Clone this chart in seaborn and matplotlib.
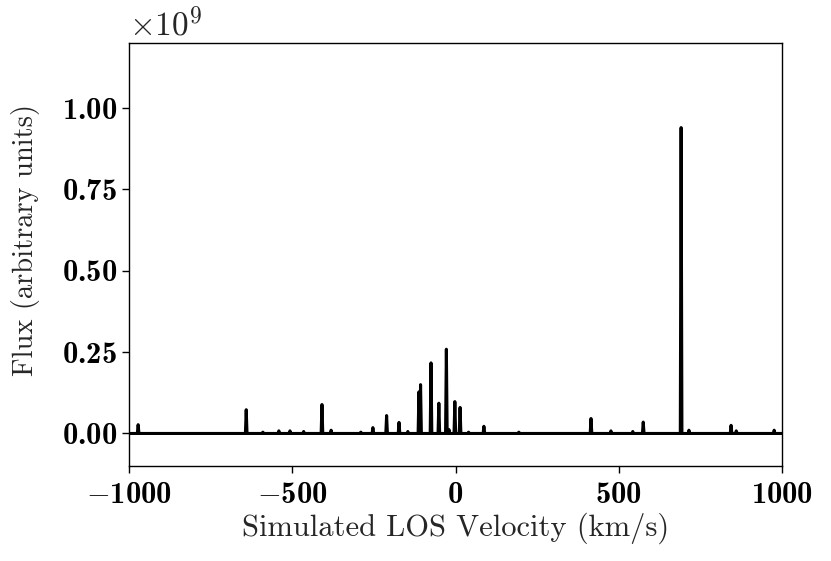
import numpy as np
import pandas as pd
import matplotlib
matplotlib.use("Agg")
import matplotlib.pyplot as plt
import seaborn as sns
from matplotlib.ticker import FuncFormatter

# --- data (flux in units of 1e9) ---
spike_velocity = [-972, -641, -590, -541, -507, -465, -409, -381, -290, -253,
                  -211, -173, -146, -112, -107, -75, -51, -28, -20, -2, 14,
                  40, 87, 194, 415, 476, 543, 575, 691, 715, 844, 860, 976]
spike_flux = [0.027, 0.073, 0.004, 0.008, 0.008, 0.006, 0.089, 0.010, 0.004, 0.018,
              0.055, 0.034, 0.006, 0.128, 0.150, 0.217, 0.093, 0.259, 0.012, 0.098, 0.080,
              0.004, 0.022, 0.004, 0.046, 0.008, 0.006, 0.035, 0.940, 0.010, 0.025, 0.008, 0.010]
x_ticks = [-1000, -500, 0, 500, 1000]
y_ticks = [0.0, 0.25, 0.5, 0.75, 1.0]
scale = 1e9
half_width = 2.5

# build spectrum line from the spike lists
vel = [-1000.0]
flux = [0.0]
for c, h in sorted(zip(spike_velocity, spike_flux)):
    vel += [c - half_width, c, c + half_width]
    flux += [0.0, h * scale, 0.0]
vel.append(1000.0)
flux.append(0.0)
df = pd.DataFrame({"v": vel, "f": flux})

sns.set_theme(style="ticks")
plt.rcParams.update({
    "font.family": "serif",
    "font.serif": ["cmr10"],
    "mathtext.fontset": "custom",
    "mathtext.rm": "cmr10",
    "mathtext.bf": "cmb10",
    "mathtext.it": "cmmi10",
    "mathtext.fallback": "cm",
    "axes.unicode_minus": False,
    "axes.formatter.use_mathtext": True,
    "axes.edgecolor": "black",
    "axes.linewidth": 1.0,
    "xtick.color": "black",
    "ytick.color": "black",
    "xtick.major.width": 1.0,
    "ytick.major.width": 1.0,
})

fig = plt.figure(figsize=(8.31, 5.61), dpi=100)
ax = fig.add_axes([129 / 831, 1 - 466 / 561, (782 - 129) / 831, (466 - 43) / 561])

sns.lineplot(data=df, x="v", y="f", ax=ax, color="black", linewidth=2.2,
             estimator=None, sort=False)

ax.set_xlim(-1000, 1000)
ax.set_ylim(-0.1 * scale, 1.2 * scale)
ax.set_xticks(x_ticks)
ax.set_yticks([t * scale for t in y_ticks])


def xfmt(v, pos):
    return r"$\mathbf{%d}$" % int(round(v))


def yfmt(v, pos):
    return r"$\mathbf{%.2f}$" % (v / scale)


ax.xaxis.set_major_formatter(FuncFormatter(xfmt))
ax.yaxis.set_major_formatter(FuncFormatter(yfmt))
ax.tick_params(axis="both", labelsize=22, length=5)
ax.tick_params(axis="x", pad=6)

ax.set_xlabel("Simulated LOS Velocity (km/s)", fontsize=22, labelpad=3)
ax.set_ylabel("Flux (arbitrary units)", fontsize=20.5)
ax.yaxis.set_label_coords(-0.137, 0.535)
ax.text(0.0, 1.003, r"$\times10^{9}$", transform=ax.transAxes, fontsize=24,
        ha="left", va="bottom")

for s in ax.spines.values():
    s.set_visible(True)

fig.savefig("out.png", dpi=100)
